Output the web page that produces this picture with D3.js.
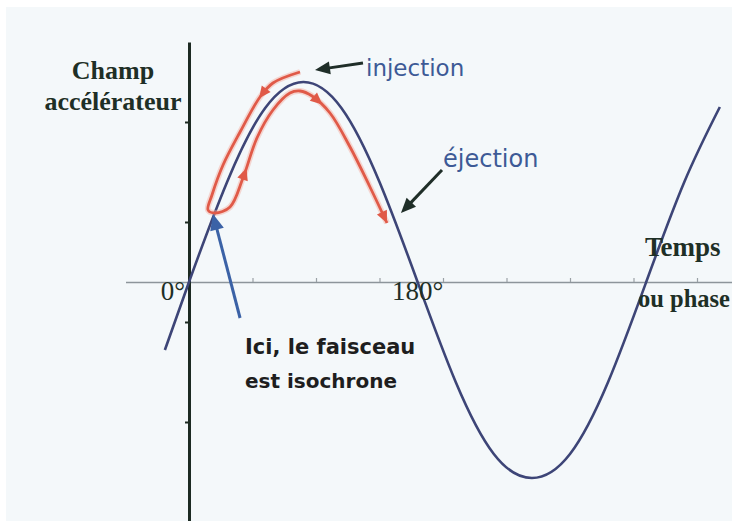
<!DOCTYPE html>
<html>
<head>
<meta charset="utf-8">
<script src="https://cdn.jsdelivr.net/npm/d3@7"></script>
<style>
  html, body { margin: 0; padding: 0; background: #fff; }
  svg { display: block; }
</style>
</head>
<body>
<div id="chart"></div>
<script>
// accelerating field vs phase (degrees, field in units of peak)
const phaseDeg = [-19, 0, 30, 60, 90, 120, 150, 180, 210, 240, 270, 300, 330, 360, 390, 418];
const fieldVal = [-0.34, 0, 0.5, 0.87, 1.0, 0.87, 0.5, 0, -0.5, -0.86, -0.98, -0.86, -0.5, 0, 0.5, 0.875];

// red bunch trajectory (outer branch going down, loop, inner branch over the crest)
const redPhase = [87.4, 66.1, 55.9, 40.2, 26.8, 18.1, 15.0, 20.5, 32.3, 42.5, 53.5, 66.1, 79.5, 87.4, 96.9, 111.0, 126.8, 142.5, 155.9];
const redField = [1.05, 0.995, 0.925, 0.75, 0.585, 0.435, 0.36, 0.345, 0.375, 0.52, 0.72, 0.86, 0.945, 0.955, 0.93, 0.845, 0.675, 0.475, 0.295];
const redArrowAt = [0.09, 0.47, 0.72, 1.0]; // fractions of path length

// axis ticks
const xTicks = [0, 50, 100, 150, 200, 250, 300, 350, 400];
const yTicks = [-1.2, -0.7, -0.2, 0.3, 0.8];
const xLabels = [{ deg: 0, text: '0°' }, { deg: 180, text: '180°' }];

// annotation arrows: [tail phase, tail field, tip phase, tip field]
const injArrow = [137, 1.095, 99.2, 1.06];
const ejArrow = [199.2, 0.56, 166.9, 0.345];
const isoArrow = [40.2, -0.18, 18.9, 0.34];

const W = 732, H = 521;
const serif = '"Liberation Serif", "Times New Roman", serif';
const hand = '"DejaVu Sans", sans-serif';

const svg = d3.select('#chart').append('svg').attr('width', W).attr('height', H);

svg.append('rect').attr('x', 6).attr('y', 7).attr('width', W - 6).attr('height', H - 7).attr('fill', '#f4f8fa');

const x = d3.scaleLinear().domain([-50, 430]).range([125.5, 735.1]);
const y = d3.scaleLinear().domain([-1.2, 1.2]).range([522, 42]);

// x axis (gray, small ticks upward)
const xAxisG = svg.append('g')
  .attr('transform', `translate(0,${y(0)})`)
  .call(d3.axisTop(x).tickValues(xTicks).tickSize(4).tickSizeOuter(0).tickFormat(''));
xAxisG.select('.domain').attr('stroke', '#8d959b').attr('stroke-width', 1.6);
xAxisG.selectAll('.tick line').attr('stroke', '#9aa1a6').attr('stroke-width', 1.2);

// y axis (thick dark line at phase 0)
const yAxisG = svg.append('g')
  .attr('transform', `translate(${x(0)},0)`)
  .call(d3.axisLeft(y).tickValues(yTicks).tickSize(4).tickSizeOuter(0).tickFormat(''));
yAxisG.select('.domain').attr('stroke', '#1c2a22').attr('stroke-width', 3);
yAxisG.selectAll('.tick line').attr('stroke', '#1c2a22').attr('stroke-width', 2);

// sine curve
const line = d3.line().x((d) => x(d[0])).y((d) => y(d[1])).curve(d3.curveNatural);
svg.append('path')
  .datum(phaseDeg.map((p, i) => [p, fieldVal[i]]))
  .attr('d', line)
  .attr('fill', 'none')
  .attr('stroke', '#3d4577')
  .attr('stroke-width', 2.6);

// red trajectory with halo
const redLine = d3.line().x((d) => x(d[0])).y((d) => y(d[1])).curve(d3.curveCatmullRom.alpha(0.5));
const redData = redPhase.map((p, i) => [p, redField[i]]);
svg.append('path').datum(redData).attr('d', redLine)
  .attr('fill', 'none').attr('stroke', '#f3aa9e').attr('stroke-width', 6).attr('stroke-opacity', 0.45);
const redPath = svg.append('path').datum(redData).attr('d', redLine)
  .attr('fill', 'none').attr('stroke', '#e05a48').attr('stroke-width', 2.8);

function arrowHead(tip, dir, len, half, fill) {
  const [dx, dy] = dir;
  const bx = tip[0] - dx * len, by = tip[1] - dy * len;
  const pts = [tip, [bx - dy * half, by + dx * half], [bx + dy * half, by - dx * half]];
  svg.append('path').attr('d', 'M' + pts.map((p) => p.join(',')).join('L') + 'Z').attr('fill', fill);
}

const node = redPath.node();
const total = node.getTotalLength();
redArrowAt.forEach((f) => {
  const L = f * total;
  const a = node.getPointAtLength(Math.max(0, L - 3));
  const b = node.getPointAtLength(Math.min(total, L + 3));
  const n = Math.hypot(b.x - a.x, b.y - a.y) || 1;
  const tip = node.getPointAtLength(Math.min(total, L + (f < 1 ? 5 : 0)));
  arrowHead([tip.x, tip.y], [(b.x - a.x) / n, (b.y - a.y) / n], 12, 5.5, '#e05a48');
});

// annotation arrows
function annArrow(a, color, width, len, half) {
  const t = [x(a[0]), y(a[1])], h = [x(a[2]), y(a[3])];
  const n = Math.hypot(h[0] - t[0], h[1] - t[1]);
  const dir = [(h[0] - t[0]) / n, (h[1] - t[1]) / n];
  svg.append('line')
    .attr('x1', t[0]).attr('y1', t[1])
    .attr('x2', h[0] - dir[0] * (len - 2)).attr('y2', h[1] - dir[1] * (len - 2))
    .attr('stroke', color).attr('stroke-width', width);
  arrowHead(h, dir, len, half, color);
}
annArrow(injArrow, '#1f2e28', 3, 15, 6.5);
annArrow(ejArrow, '#1f2e28', 3, 15, 6.5);
annArrow(isoArrow, '#3b62a6', 3, 16, 7);

// texts
function txt(str, px, py, opts) {
  return svg.append('text').attr('x', px).attr('y', py)
    .attr('font-family', opts.family)
    .attr('font-size', opts.size)
    .attr('font-weight', opts.weight || 'normal')
    .attr('text-anchor', opts.anchor || 'start')
    .attr('fill', opts.color)
    .text(str);
}
const ylab = { family: serif, size: 26, weight: 'bold', anchor: 'middle', color: '#1e2f26' };
txt('Champ', 113, 79, ylab);
txt('accélérateur', 113, 110, ylab);
txt('Temps', 645, 256, { family: serif, size: 27, weight: 'bold', color: '#1e2f26' });
// squeezed so the whole label stays inside the frame
txt('ou phase', 638, 307, { family: serif, size: 25, weight: 'bold', color: '#1e2f26' })
  .attr('textLength', 92).attr('lengthAdjust', 'spacingAndGlyphs');

xLabels.forEach((d) => {
  txt(d.text, x(d.deg) - (d.deg === 0 ? 4 : 0), 300, { family: serif, size: 27, anchor: d.deg === 0 ? 'end' : 'middle', color: '#1e2f26' });
});

txt('injection', 366, 76, { family: hand, size: 23, color: '#3d5a96' });
txt('éjection', 443, 167, { family: hand, size: 24, color: '#3d5a96' });
txt('Ici, le faisceau', 245, 354, { family: hand, size: 21, weight: 'bold', color: '#1e1e1e' });
txt('est isochrone', 245, 388, { family: hand, size: 20, weight: 'bold', color: '#1e1e1e' });
</script>
</body>
</html>
